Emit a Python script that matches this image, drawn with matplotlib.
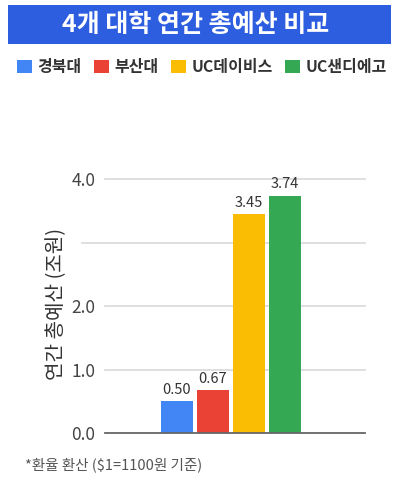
import matplotlib
matplotlib.use("Agg")
import matplotlib.pyplot as plt
from matplotlib.patches import Rectangle, Patch

plt.rcParams['font.family'] = ['Noto Sans CJK KR', 'DejaVu Sans']

# data
universities = ['경북대', '부산대', 'UC데이비스', 'UC샌디에고']
budgets = [0.50, 0.67, 3.45, 3.74]
colors = ['#4285F4', '#EA4335', '#FBBC04', '#34A853']
yticks = [0.0, 1.0, 2.0, 3.0, 4.0]
ytick_labels = ['0.0', '1.0', '2.0', '', '4.0']

fig = plt.figure(figsize=(4.0, 4.86), dpi=100)

# title banner
fig.patches.append(Rectangle((8 / 400, 1 - 44 / 486), 383 / 400, 39 / 486,
                             transform=fig.transFigure, facecolor='#2e5ee0',
                             edgecolor='none'))
fig.text(0.49, 1 - 24.5 / 486, '4개 대학 연간 총예산 비교', color='white',
         fontsize=18, fontweight='bold', ha='center', va='center')

# legend
handles = [Patch(facecolor=c, edgecolor='none') for c in colors]
fig.legend(handles, universities, loc='center', bbox_to_anchor=(0.505, 1 - 67 / 486),
           ncol=4, frameon=False, handlelength=0.9, handleheight=0.9,
           handletextpad=0.35, columnspacing=0.8, borderaxespad=0,
           prop={'size': 11.5, 'weight': 'bold'}, labelcolor='#333333')

ax = fig.add_axes([105 / 400, 1 - 433 / 486, 260 / 400, 254 / 486])
x = list(range(len(budgets)))
bars = ax.bar(x, budgets, width=0.89, color=colors, zorder=3)
ax.bar_label(bars, fmt='%.2f', padding=3, fontsize=10.5, color='#333333')

ax.set_xlim(-2.0, 5.22)
ax.set_ylim(0, 4.0)
ax.set_yticks(yticks)
ax.set_yticklabels(ytick_labels)
ax.tick_params(axis='y', length=0, pad=7, labelsize=12.5, labelcolor='#444444')
ax.set_xticks([])

for t in yticks[1:]:
    xmin = -23 / 260 if t == 3.0 else 0
    ax.axhline(t, xmin=xmin, xmax=1, color='#d9d9d9', lw=1.2, zorder=1, clip_on=False)

for s in ['top', 'right', 'left']:
    ax.spines[s].set_visible(False)
ax.spines['bottom'].set_color('#666666')
ax.spines['bottom'].set_linewidth(1.3)
ax.spines['bottom'].set_zorder(4)

ax.set_ylabel('연간 총예산 (조원)', fontsize=14.5, color='#333333')
ax.yaxis.set_label_coords(-0.145, 0.51)

fig.text(25 / 400, 1 - 465 / 486, '*환율 환산 ($1=1100원 기준)', fontsize=10.5,
         color='#555555', ha='left', va='center')

fig.savefig('out.png', dpi=100)
